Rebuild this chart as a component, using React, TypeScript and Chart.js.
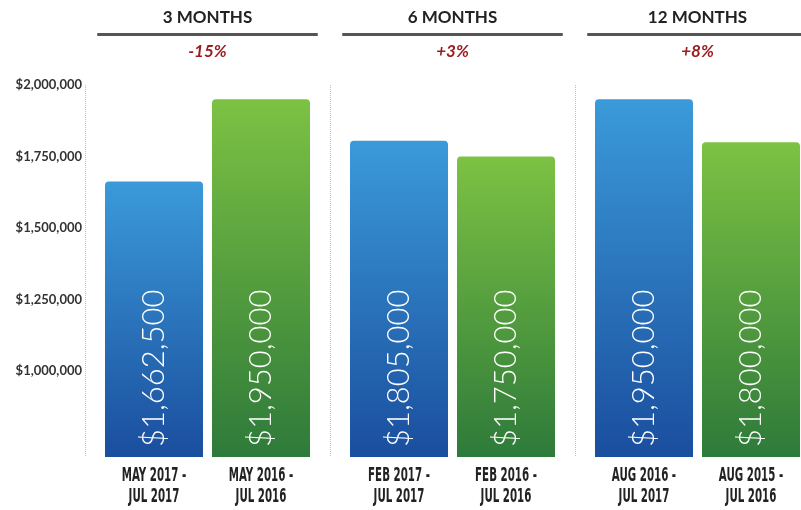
import React, { useEffect, useRef } from "react";
import { Chart, registerables } from "chart.js";

Chart.register(...registerables);

const GROUPS = ["3 MONTHS", "6 MONTHS", "12 MONTHS"];
const CURRENT_VALUES = [1662500, 1805000, 1950000];
const PRIOR_VALUES = [1950000, 1750000, 1800000];
const CURRENT_PERIODS = [
  ["MAY 2017 -", "JUL 2017"],
  ["FEB 2017 -", "JUL 2017"],
  ["AUG 2016 -", "JUL 2017"],
];
const PRIOR_PERIODS = [
  ["MAY 2016 -", "JUL 2016"],
  ["FEB 2016 -", "JUL 2016"],
  ["AUG 2015 -", "JUL 2016"],
];
const Y_TICKS = [1000000, 1250000, 1500000, 1750000, 2000000];
const Y_MIN = 700000;
const Y_MAX = 2000000;

const money = (v: number) => "$" + v.toLocaleString("en-US");

function barGradient(ctx: any, top: string, bottom: string) {
  const chart = ctx.chart;
  const ys = chart.scales?.y;
  if (!ys || ctx.raw == null) return top;
  const yTop = ys.getPixelForValue(ctx.raw);
  const yBot = ys.bottom;
  if (!isFinite(yTop) || !isFinite(yBot) || yBot <= yTop) return top;
  const g = chart.ctx.createLinearGradient(0, yTop, 0, yBot);
  g.addColorStop(0, top);
  g.addColorStop(1, bottom);
  return g;
}

const overlayPlugin = {
  id: "overlay",
  afterDatasetsDraw(chart: any) {
    const { ctx } = chart;
    const xs = chart.scales.x;
    const ys = chart.scales.y;
    const catW = xs.width / GROUPS.length;
    ctx.save();
    GROUPS.forEach((g, i) => {
      const cx = xs.getPixelForValue(i);
      ctx.fillStyle = "#222";
      ctx.font = "bold 17px Lato, 'Noto Sans', sans-serif";
      ctx.textAlign = "center";
      ctx.textBaseline = "middle";
      ctx.fillText(g, cx, 18);
      ctx.strokeStyle = "#555";
      ctx.lineWidth = 3;
      ctx.beginPath();
      ctx.moveTo(cx - catW * 0.45, 34.5);
      ctx.lineTo(cx + catW * 0.45, 34.5);
      ctx.stroke();
      const pct = Math.round((CURRENT_VALUES[i] / PRIOR_VALUES[i] - 1) * 100);
      ctx.fillStyle = "#9b1b1f";
      ctx.font = "italic bold 17px Lato, 'Noto Sans', sans-serif";
      ctx.fillText((pct > 0 ? "+" : "") + pct + "%", cx, 52);
    });
    const base = ys.getPixelForValue(Y_MIN);
    const sets = [
      { meta: chart.getDatasetMeta(0), vals: CURRENT_VALUES, periods: CURRENT_PERIODS },
      { meta: chart.getDatasetMeta(1), vals: PRIOR_VALUES, periods: PRIOR_PERIODS },
    ];
    sets.forEach(({ meta, vals, periods }) => {
      meta.data.forEach((bar: any, i: number) => {
        ctx.save();
        ctx.translate(bar.x, base - 10);
        ctx.rotate(-Math.PI / 2);
        ctx.fillStyle = "#ffffff";
        ctx.font = "300 31px Lato, 'Open Sans', sans-serif";
        ctx.textAlign = "left";
        ctx.textBaseline = "middle";
        ctx.fillText(money(vals[i]), 0, 0);
        ctx.restore();
        periods[i].forEach((line: string, k: number) => {
          ctx.save();
          ctx.translate(bar.x, 476 + k * 21);
          ctx.scale(0.6, 1);
          ctx.fillStyle = "#222";
          ctx.font = "bold 19px 'DejaVu Sans Condensed', 'DejaVu Sans', sans-serif";
          ctx.textAlign = "center";
          ctx.textBaseline = "middle";
          ctx.fillText(line, 0, 0);
          ctx.restore();
        });
      });
    });
    ctx.restore();
  },
};

export default function App() {
  const ref = useRef<HTMLCanvasElement | null>(null);
  useEffect(() => {
    if (!ref.current) return;
    const chart = new Chart(ref.current, {
      type: "bar",
      data: {
        labels: GROUPS,
        datasets: [
          {
            data: CURRENT_VALUES,
            backgroundColor: (c: any) => barGradient(c, "#3b9ad9", "#1a4e9e"),
            borderRadius: { topLeft: 4, topRight: 4, bottomLeft: 0, bottomRight: 0 },
            borderSkipped: false,
            categoryPercentage: 0.8735,
            barPercentage: 0.916,
          },
          {
            data: PRIOR_VALUES,
            backgroundColor: (c: any) => barGradient(c, "#7cc243", "#2e7a3a"),
            borderRadius: { topLeft: 4, topRight: 4, bottomLeft: 0, bottomRight: 0 },
            borderSkipped: false,
            categoryPercentage: 0.8735,
            barPercentage: 0.916,
          },
        ],
      },
      options: {
        animation: false,
        responsive: false,
        devicePixelRatio: 1,
        layout: { padding: { top: 85, bottom: 53, left: 0, right: 0 } },
        plugins: { legend: { display: false }, tooltip: { enabled: false }, title: { display: false } },
        scales: {
          x: {
            ticks: { display: false },
            grid: { offset: true, color: "#c0c0c0", lineWidth: 1, drawTicks: false },
            border: { display: false, dash: [1, 1] },
            afterFit: (s: any) => {
              s.height = 0;
            },
          },
          y: {
            min: Y_MIN,
            max: Y_MAX,
            afterBuildTicks: (s: any) => {
              s.ticks = Y_TICKS.map((v) => ({ value: v }));
            },
            afterFit: (s: any) => {
              s.width = 85;
            },
            ticks: {
              padding: 3,
              color: "#333",
              font: { family: "Lato, 'Noto Sans', sans-serif", size: 13, weight: "bold" },
              callback: (v: any) => money(Number(v)),
            },
            grid: { display: false, drawTicks: false },
            border: { display: false },
          },
        },
      },
      plugins: [overlayPlugin],
    } as any);
    return () => chart.destroy();
  }, []);
  return (
    <div style={{ position: "fixed", left: 0, top: 0, width: 801, height: 510, overflow: "hidden", background: "#fff" }}>
      <canvas ref={ref} width={820} height={510} style={{ display: "block" }} />
    </div>
  );
}
